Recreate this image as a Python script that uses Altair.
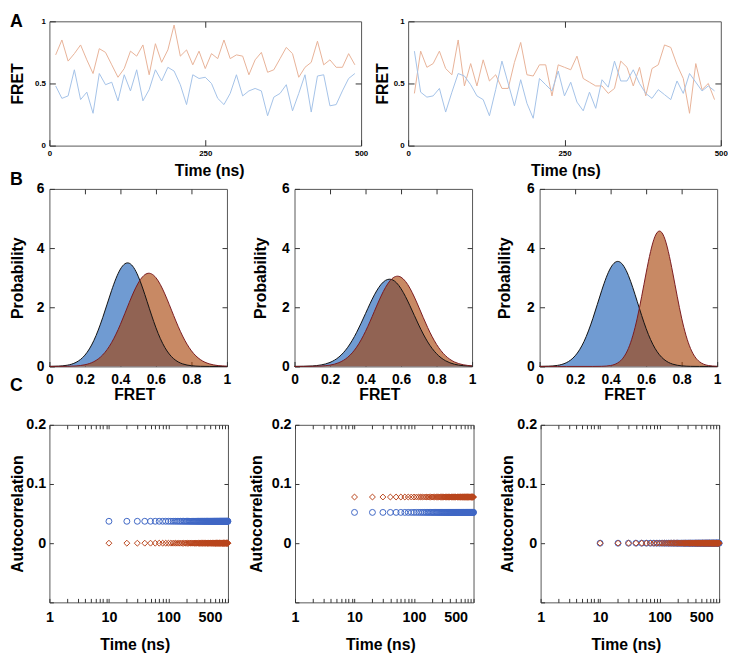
import altair as alt
import pandas as pd

FONT = "Liberation Sans"

# ---------------- Panel A: single-molecule FRET traces ----------------
time_ns = list(range(10, 500, 10))  # frame times, 10 ns apart

a1_high = [0.73, 0.85, 0.68, 0.74, 0.81, 0.69, 0.58, 0.78, 0.75, 0.65, 0.55, 0.62, 0.76,
           0.72, 0.81, 0.57, 0.82, 0.67, 0.77, 0.97, 0.72, 0.77, 0.65, 0.76, 0.62,
           0.74, 0.70, 0.85, 0.70, 0.73, 0.72, 0.57, 0.69, 0.75, 0.59, 0.61, 0.70,
           0.79, 0.74, 0.55, 0.63, 0.67, 0.84, 0.65, 0.69, 0.63, 0.63, 0.74, 0.65]
a1_low = [0.48, 0.38, 0.40, 0.61, 0.37, 0.43, 0.26, 0.58, 0.49, 0.51, 0.36, 0.57, 0.44,
          0.61, 0.36, 0.45, 0.61, 0.52, 0.63, 0.60, 0.49, 0.33, 0.57, 0.54, 0.55,
          0.50, 0.38, 0.33, 0.42, 0.57, 0.40, 0.44, 0.46, 0.44, 0.24, 0.39, 0.42,
          0.49, 0.28, 0.42, 0.57, 0.27, 0.56, 0.57, 0.32, 0.33, 0.44, 0.54, 0.58]
a2_high = [0.42, 0.76, 0.63, 0.66, 0.76, 0.62, 0.57, 0.85, 0.48, 0.66, 0.48, 0.69, 0.52,
           0.57, 0.46, 0.46, 0.67, 0.83, 0.57, 0.56, 0.65, 0.65, 0.40, 0.65, 0.63,
           0.61, 0.72, 0.54, 0.51, 0.48, 0.48, 0.42, 0.46, 0.68, 0.63, 0.48, 0.63,
           0.40, 0.62, 0.65, 0.81, 0.79, 0.65, 0.54, 0.26, 0.66, 0.45, 0.50, 0.37]
a2_low = [0.76, 0.43, 0.39, 0.40, 0.46, 0.27, 0.43, 0.58, 0.56, 0.49, 0.40, 0.37, 0.24,
          0.45, 0.68, 0.50, 0.32, 0.53, 0.34, 0.22, 0.54, 0.49, 0.44, 0.60, 0.40,
          0.51, 0.35, 0.28, 0.43, 0.30, 0.53, 0.47, 0.68, 0.52, 0.52, 0.61, 0.50,
          0.42, 0.38, 0.45, 0.41, 0.37, 0.52, 0.42, 0.58, 0.51, 0.44, 0.48, 0.44]

# ---------------- Panel B: FRET probability distributions ----------------
fret_grid = [0.0, 0.05, 0.1, 0.15, 0.2, 0.25, 0.3, 0.35, 0.4, 0.45, 0.5,
             0.55, 0.6, 0.65, 0.7, 0.75, 0.8, 0.85, 0.9, 0.95, 1.0]
b1_blue = [0.002, 0.010, 0.041, 0.138, 0.382, 0.873, 1.647, 2.563, 3.291, 3.487, 3.047,
           2.197, 1.307, 0.642, 0.260, 0.087, 0.024, 0.005, 0.001, 0.0, 0.0]
b1_orange = [0.0, 0.001, 0.005, 0.017, 0.057, 0.160, 0.388, 0.803, 1.424, 2.165, 2.817,
             3.140, 2.998, 2.451, 1.716, 1.029, 0.528, 0.232, 0.088, 0.028, 0.008]
b2_blue = [0.001, 0.005, 0.016, 0.051, 0.136, 0.318, 0.648, 1.153, 1.789, 2.420, 2.852,
           2.932, 2.627, 2.052, 1.398, 0.830, 0.430, 0.194, 0.076, 0.026, 0.008]
b2_orange = [0.0, 0.001, 0.004, 0.014, 0.045, 0.128, 0.311, 0.653, 1.187, 1.864, 2.531,
             2.971, 3.015, 2.644, 2.005, 1.314, 0.745, 0.365, 0.154, 0.057, 0.018]
b3_blue = [0.002, 0.008, 0.035, 0.124, 0.358, 0.842, 1.625, 2.571, 3.331, 3.536, 3.075,
           2.192, 1.279, 0.612, 0.240, 0.077, 0.020, 0.004, 0.001, 0.0, 0.0]
b3_orange = [0.0, 0.0, 0.0, 0.0, 0.0, 0.0, 0.0, 0.004, 0.031, 0.162, 0.606,
             1.632, 3.158, 4.395, 4.395, 3.158, 1.632, 0.606, 0.162, 0.031, 0.004]

# ---------------- Panel C: autocorrelation ----------------
lag_ns = list(range(10, 1001, 10))
c_blue_level = [0.037, 0.052, 0.0]     # circles, one level per panel
c_orange_level = [0.0, 0.078, 0.0]     # diamonds
c_tick_values = [1, 2, 3, 4, 5, 6, 7, 8, 9, 10, 20, 30, 40, 50, 60, 70, 80, 90,
                 100, 200, 300, 400, 500, 600, 700, 800, 900, 1000]
c_labels = [1, 10, 100, 500]

# ---------------- styling ----------------
ORANGE_LINE = "#e8b297"
BLUE_LINE = "#a4c2e8"
BLUE_FILL = "#709bd2"
ORANGE_FILL = "#a64105"
BLUE_EDGE = "#111111"
ORANGE_EDGE = "#7a1a1f"
CIRCLE = "#3f67c4"
DIAMOND = "#b9451c"
FRAME = "#555555"
TICK = "#333333"
FMT = ".4~g"


def main_axis(orient, values, tick, lp, lfs, title, tp, label_expr=None, title_x=None):
    kw = dict(orient=orient, values=values, tickSize=tick, offset=-tick, domain=False,
              grid=False, tickColor=TICK, tickWidth=1, labelPadding=lp, labelFont=FONT,
              labelFontSize=lfs, labelFontWeight="bold", labelColor="black",
              labelFlush=False, labelOverlap=False, format=FMT, title=title,
              titleFont=FONT, titleFontSize=16, titleFontWeight="bold",
              titleColor="black", titlePadding=tp)
    if label_expr:
        kw["labelExpr"] = label_expr
    if title_x is not None:
        kw["titleX"] = title_x
    return alt.Axis(**kw)


def mirror_axis(orient, values, tick):
    return alt.Axis(orient=orient, values=values, tickSize=tick, offset=-tick,
                    domain=False, grid=False, labels=False, tickColor=TICK,
                    tickWidth=1, title=None)


def letter(ch, y, baseline):
    return alt.Chart(pd.DataFrame({"s": [ch]})).mark_text(
        align="left", baseline=baseline, font=FONT, fontSize=18, fontWeight="bold",
        color="black").encode(x=alt.value(-40), y=alt.value(y), text="s:N")


def panel_a(high, low, width, ytp, xtitle_x, let=None):
    n = len(time_ns)
    df = pd.DataFrame({"t": time_ns + time_ns, "v": high + low,
                       "s": ["high"] * n + ["low"] * n})
    xs = alt.Scale(domain=[0, 500], nice=False)
    ys = alt.Scale(domain=[0, 1], nice=False)
    lines = alt.Chart(df).mark_line(strokeWidth=1).encode(
        x=alt.X("t:Q", scale=xs, axis=main_axis("bottom", [0, 250, 500], 6, 4.2, 8,
                                                 "Time (ns)", 4.9, title_x=xtitle_x)),
        y=alt.Y("v:Q", scale=ys, axis=main_axis("left", [0, 0.5, 1], 6, 4, 8,
                                                 "FRET", ytp)),
        color=alt.Color("s:N", scale=alt.Scale(domain=["high", "low"],
                                               range=[ORANGE_LINE, BLUE_LINE]), legend=None),
    )
    mirror = alt.Chart(df).mark_point(opacity=0).encode(
        x=alt.X("t:Q", scale=xs, axis=mirror_axis("top", [250], 6)),
        y=alt.Y("v:Q", scale=ys, axis=mirror_axis("right", [0.5], 6)),
    )
    layers = [lines, mirror]
    if let:
        layers.append(letter(*let))
    return alt.layer(*layers).resolve_axis(x="independent", y="independent").properties(
        width=width, height=126)


def panel_b(blue, orange, ytp, let=None):
    df_b = pd.DataFrame({"x": fret_grid, "p": blue})
    df_o = pd.DataFrame({"x": fret_grid, "p": orange})
    xs = alt.Scale(domain=[0, 1], nice=False)
    ys = alt.Scale(domain=[0, 6], nice=False)
    xvals = [0, 0.2, 0.4, 0.6, 0.8, 1]

    def enc(ch, axis_x, axis_y):
        return ch.encode(
            x=alt.X("x:Q", scale=xs, axis=axis_x),
            y=alt.Y("p:Q", scale=ys, axis=axis_y, stack=None))

    area_b = enc(alt.Chart(df_b).mark_area(interpolate="natural", color=BLUE_FILL, opacity=1),
                 main_axis("bottom", xvals, 5, 6.7, 14, "FRET", 0.1, title_x=86),
                 main_axis("left", [0, 2, 4, 6], 5, 5.5, 14, "Probability", ytp))
    area_o = enc(alt.Chart(df_o).mark_area(interpolate="natural", color=ORANGE_FILL,
                                           opacity=0.62), None, None)
    line_b = enc(alt.Chart(df_b).mark_line(interpolate="natural", color=BLUE_EDGE,
                                           strokeWidth=1), None, None)
    line_o = enc(alt.Chart(df_o).mark_line(interpolate="natural", color=ORANGE_EDGE,
                                           strokeWidth=1), None, None)
    mirror = enc(alt.Chart(df_b).mark_point(opacity=0),
                 mirror_axis("top", [0.2, 0.4, 0.6, 0.8], 5),
                 mirror_axis("right", [2, 4], 5))
    layers = [area_b, area_o, line_b, line_o, mirror]
    if let:
        layers.append(letter(*let))
    return alt.layer(*layers).resolve_axis(x="independent", y="independent").properties(
        width=180, height=180)


def panel_c(idx, ylp, ytp, width, let=None):
    n = len(lag_ns)
    df_c = pd.DataFrame({"lag": lag_ns, "ac": [c_blue_level[idx]] * n})
    df_d = pd.DataFrame({"lag": lag_ns, "ac": [c_orange_level[idx]] * n})
    xs = alt.Scale(type="log", domain=[1, 1000], nice=False)
    ys = alt.Scale(domain=[-0.1, 0.2], nice=False)
    lab_expr = "indexof([" + ",".join(str(v) for v in c_labels) + "], datum.value) >= 0 ? datum.label : ''"

    def enc(ch, axis_x, axis_y):
        return ch.encode(x=alt.X("lag:Q", scale=xs, axis=axis_x),
                         y=alt.Y("ac:Q", scale=ys, axis=axis_y))

    circles = enc(alt.Chart(df_c).mark_point(shape="circle", filled=False, size=36,
                                              strokeWidth=1, color=CIRCLE, opacity=1),
                  main_axis("bottom", c_tick_values, 4, 8.2, 14.5, "Time (ns)", 12.8,
                            label_expr=lab_expr, title_x=width / 2 - 4),
                  main_axis("left", [-0.1, 0, 0.1, 0.2], 4, ylp, 14.5, "Autocorrelation", ytp,
                            label_expr="datum.value < -0.05 ? '' : datum.label"))
    diamonds = enc(alt.Chart(df_d).mark_point(shape="diamond", filled=False, size=36,
                                               strokeWidth=1, color=DIAMOND, opacity=1),
                   None, None)
    mirror = enc(alt.Chart(df_c).mark_point(opacity=0),
                 mirror_axis("top", c_tick_values, 4),
                 mirror_axis("right", [0, 0.1], 4))
    layers = [circles, diamonds, mirror]
    if let:
        layers.append(letter(*let))
    return alt.layer(*layers).resolve_axis(x="independent", y="independent").properties(
        width=width, height=180)


a1 = panel_a(a1_high, a1_low, 316, 9.6, 162, ("A", -8, "top"))
a2 = panel_a(a2_high, a2_low, 317, 3.2, 159.5)
b1 = panel_b(b1_blue, b1_orange, 10.7, ("B", -4, "alphabetic"))
b2 = panel_b(b2_blue, b2_orange, 13.2)
b3 = panel_b(b3_blue, b3_orange, 14.6)
c1 = panel_c(0, 3.8, 0, 181, ("C", -34.2, "alphabetic"))
c2 = panel_c(1, 4, 7.1, 181)
c3 = panel_c(2, 4, 1.5, 181)

row_a = alt.hconcat(a1, a2, spacing=47.7, bounds="flush")
row_b = alt.hconcat(b1, b2, b3, spacing=68.5, bounds="flush")
row_c = alt.hconcat(c1, c2, c3, spacing=68, bounds="flush")

chart = alt.vconcat(
    row_a,
    alt.vconcat(row_b, row_c, spacing=-27.8),
    spacing=-9.1,
).properties(padding=0, background="white").configure_view(stroke=FRAME, strokeWidth=1)

chart.save("out.html", embed_options={"renderer": "svg", "actions": False})
